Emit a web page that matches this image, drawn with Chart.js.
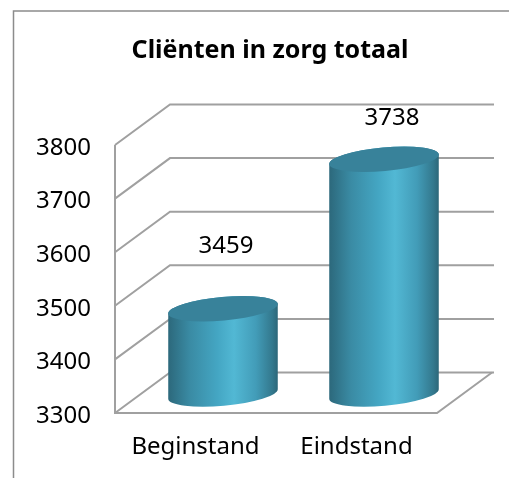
<!DOCTYPE html>
<html>
<head>
<meta charset="utf-8">
<style>
html,body{margin:0;padding:0;background:#fff}
#wrap{position:absolute;left:0;top:0;width:509px;height:478px}
</style>
<script src="https://cdn.jsdelivr.net/npm/chart.js@4"></script>
</head>
<body>
<div id="wrap"><canvas id="c" width="509" height="478"></canvas></div>
<script>
const chartTitle = "Cliënten in zorg totaal";
const categories = ["Beginstand", "Eindstand"];
const clientValues = [3459, 3738];
const yMin = 3300, yMax = 3800, yStep = 100;

const FONT = '"Noto Sans", sans-serif';
const DEPTH = {x: 55, y: -40.5};          // perspective of the 3D box
const MID = {x: 27.5, y: -19};            // bars stand in the middle of the box
const TILT = -0.09, RY = 11.8;
const labelShift = [{x: 3, y: -62.5}, {x: 8, y: -41}];
const GRID = '#a0a0a0';
const TICK_LABEL_DROP = 3;

// cylinders replace the flat bar rectangles; geometry still comes from the bar scales
Chart.BarElement.prototype.draw = function (ctx) {
  const {x, y, base, width} = this.getProps(['x', 'y', 'base', 'width']);
  const cx = x + MID.x, ct = y + MID.y, cb = base + MID.y, r = width / 2;
  const g = ctx.createLinearGradient(cx - r, 0, cx + r, 0);
  g.addColorStop(0, '#2c687b');
  g.addColorStop(0.2, '#3a8ba4');
  g.addColorStop(0.45, '#44a6c3');
  g.addColorStop(0.6, '#52b8d4');
  g.addColorStop(0.8, '#429cb8');
  g.addColorStop(0.95, '#33788d');
  g.addColorStop(1, '#2c6678');
  ctx.save();
  ctx.beginPath();
  ctx.ellipse(cx, cb, r, RY, TILT, 0, Math.PI);
  ctx.ellipse(cx, ct, r, RY, TILT, Math.PI, 2 * Math.PI);
  ctx.closePath();
  ctx.fillStyle = g;
  ctx.fill();
  ctx.beginPath();
  ctx.ellipse(cx, ct, r, RY, TILT, 0, 2 * Math.PI);
  ctx.fillStyle = '#38829a';
  ctx.fill();
  ctx.restore();
};

const box3d = {
  id: 'box3d',
  beforeDraw(chart) {
    const ctx = chart.ctx;
    const yScale = chart.scales.y;
    if (!yScale.__dropped) {
      const drawLabels = yScale.drawLabels;
      yScale.drawLabels = function (area) {
        ctx.save();
        ctx.translate(0, TICK_LABEL_DROP);
        drawLabels.call(this, area);
        ctx.restore();
      };
      yScale.__dropped = true;
    }
    ctx.save();
    ctx.strokeStyle = '#8c8c8c';
    ctx.lineWidth = 1.5;
    ctx.beginPath();
    ctx.moveTo(13.5, 478);
    ctx.lineTo(13.5, 11);
    ctx.lineTo(509, 11);
    ctx.stroke();
    ctx.font = 'bold 25px ' + FONT;
    ctx.fillStyle = '#000';
    ctx.textAlign = 'center';
    ctx.textBaseline = 'middle';
    ctx.fillText(chartTitle, 270, 51);
    ctx.restore();
  },
  beforeDatasetsDraw(chart) {
    const {ctx, chartArea: a, scales: {y}} = chart;
    ctx.save();
    ctx.strokeStyle = GRID;
    ctx.lineWidth = 2;
    ctx.lineJoin = 'miter';
    y.ticks.forEach((t, i) => {
      const py = y.getPixelForTick(i);
      ctx.beginPath();
      ctx.moveTo(a.left, py);
      ctx.lineTo(a.left + DEPTH.x, py + DEPTH.y);
      ctx.lineTo(a.right + DEPTH.x + 2, py + DEPTH.y);
      ctx.stroke();
    });
    ctx.beginPath();
    ctx.moveTo(a.left, a.top);
    ctx.lineTo(a.left, a.bottom);
    ctx.lineTo(a.right, a.bottom);
    ctx.lineTo(a.right + DEPTH.x, a.bottom + DEPTH.y);
    ctx.stroke();
    ctx.restore();
  },
  afterDatasetsDraw(chart) {
    const ctx = chart.ctx;
    ctx.save();
    ctx.font = '24px ' + FONT;
    ctx.fillStyle = '#000';
    ctx.textAlign = 'center';
    ctx.textBaseline = 'middle';
    chart.getDatasetMeta(0).data.forEach((el, i) => {
      ctx.fillText(String(clientValues[i]), el.x + MID.x + labelShift[i].x, el.y + MID.y + labelShift[i].y);
    });
    ctx.restore();
  }
};

new Chart(document.getElementById('c'), {
  type: 'bar',
  data: {
    labels: categories,
    datasets: [{
      data: clientValues,
      base: yMin,
      backgroundColor: '#42a0bd',
      categoryPercentage: 1,
      barPercentage: 0.683,
      clip: false
    }]
  },
  plugins: [box3d],
  options: {
    responsive: false,
    animation: false,
    layout: {padding: {left: 15, right: 72, top: 145, bottom: 0}},
    plugins: {
      legend: {display: false},
      tooltip: {enabled: false},
      title: {display: false}
    },
    scales: {
      x: {
        grid: {display: false},
        border: {display: false},
        afterFit(s) { s.height = 65; },
        ticks: {color: '#000', font: {family: FONT, size: 24}, padding: 12, maxRotation: 0, autoSkip: false}
      },
      y: {
        min: yMin,
        max: yMax,
        grid: {display: false},
        border: {display: false},
        afterFit(s) { s.width = 100; },
        ticks: {stepSize: yStep, color: '#000', font: {family: FONT, size: 24}, padding: 16, callback: v => String(v)}
      }
    }
  }
});
</script>
</body>
</html>
